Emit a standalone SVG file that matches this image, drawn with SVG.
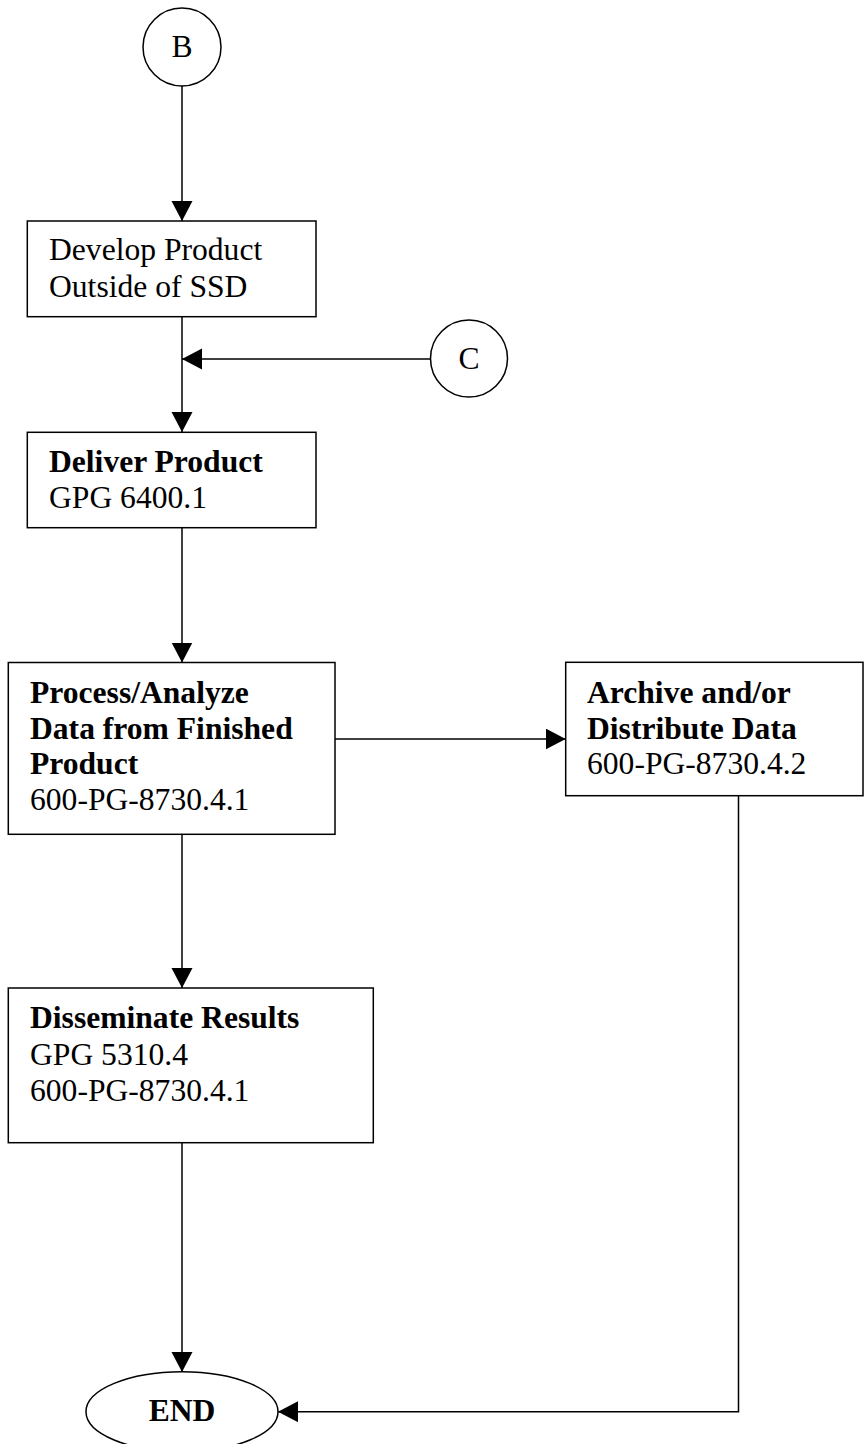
<svg xmlns="http://www.w3.org/2000/svg" width="865" height="1444" viewBox="0 0 865 1444">
<style>
.box{fill:#fff;stroke:#000;stroke-width:1.5}
.ln{fill:none;stroke:#000;stroke-width:1.5}
text{font-family:"Liberation Serif","Times New Roman",serif;font-size:31.6px;fill:#000}
.b{font-weight:bold}
.c{text-anchor:middle}
</style>
<defs>
<marker id="ah" markerUnits="userSpaceOnUse" markerWidth="22" markerHeight="22" refX="20" refY="10.5" orient="auto">
<path d="M0,0 L20,10.5 L0,21 Z" fill="#000"/>
</marker>
</defs>
<rect width="865" height="1444" fill="#fff"/>
<g id="connectors">
<line class="ln" x1="182" y1="86" x2="182" y2="221" marker-end="url(#ah)"/>
<line class="ln" x1="182" y1="317" x2="182" y2="432" marker-end="url(#ah)"/>
<line class="ln" x1="430.5" y1="359" x2="182" y2="359" marker-end="url(#ah)"/>
<line class="ln" x1="182" y1="528" x2="182" y2="662.5" marker-end="url(#ah)"/>
<line class="ln" x1="335" y1="739" x2="565.7" y2="739" marker-end="url(#ah)"/>
<line class="ln" x1="182" y1="834.5" x2="182" y2="988" marker-end="url(#ah)"/>
<line class="ln" x1="182" y1="1143" x2="182" y2="1372" marker-end="url(#ah)"/>
<polyline class="ln" points="738.5,796 738.5,1411.7 278,1411.7" marker-end="url(#ah)"/>
</g>
<g id="B">
<circle class="box" cx="182" cy="47" r="39"/>
<text class="c" x="182" y="57">B</text>
</g>
<g id="develop">
<rect class="box" x="27.3" y="221" width="288.7" height="95.7"/>
<text x="49" y="260">Develop Product</text>
<text x="49" y="296.7">Outside of SSD</text>
</g>
<g id="C">
<circle class="box" cx="469" cy="358.5" r="38.5"/>
<text class="c" x="469" y="369">C</text>
</g>
<g id="deliver">
<rect class="box" x="27.3" y="432.3" width="288.7" height="95.4"/>
<text class="b" x="49" y="471.7">Deliver Product</text>
<text x="49" y="508.3">GPG 6400.1</text>
</g>
<g id="process">
<rect class="box" x="8.3" y="662.5" width="326.7" height="171.8"/>
<text class="b" x="30" y="703.3">Process/Analyze</text>
<text class="b" x="30" y="739">Data from Finished</text>
<text class="b" x="30" y="774.3">Product</text>
<text x="30" y="810">600-PG-8730.4.1</text>
</g>
<g id="archive">
<rect class="box" x="565.7" y="662.3" width="297.3" height="133.4"/>
<text class="b" x="587" y="703.3">Archive and/or</text>
<text class="b" x="587" y="739">Distribute Data</text>
<text x="587" y="774.3">600-PG-8730.4.2</text>
</g>
<g id="disseminate">
<rect class="box" x="8.3" y="988" width="365" height="154.7"/>
<text class="b" x="30" y="1028.3">Disseminate Results</text>
<text x="30" y="1065">GPG 5310.4</text>
<text x="30" y="1100.7">600-PG-8730.4.1</text>
</g>
<g id="end">
<ellipse class="box" cx="182" cy="1411.7" rx="96" ry="40"/>
<text class="b c" x="182" y="1421">END</text>
</g>
</svg>
